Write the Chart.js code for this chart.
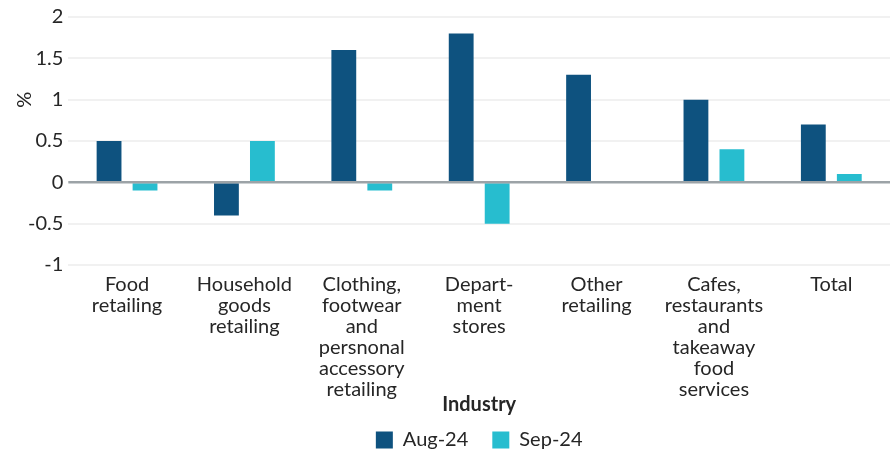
<!DOCTYPE html>
<html>
<head>
<meta charset="utf-8">
<script src="https://cdn.jsdelivr.net/npm/chart.js@4"></script>
<style>
  html, body { margin: 0; padding: 0; background: #fff; }
  #wrap { width: 890px; height: 450px; }
</style>
</head>
<body>
<div id="wrap"><canvas id="myChart"></canvas></div>
<script>
// Industry categories (multi-line labels)
const industries = [
  ["Food", "retailing"],
  ["Household", "goods", "retailing"],
  ["Clothing,", "footwear", "and", "persnonal", "accessory", "retailing"],
  ["Depart-", "ment", "stores"],
  ["Other", "retailing"],
  ["Cafes,", "restaurants", "and", "takeaway", "food", "services"],
  ["Total"]
];

// Monthly change, %
const aug24 = [0.5, -0.4, 1.6, 1.8, 1.3, 1.0, 0.7];
const sep24 = [-0.1, 0.5, -0.1, -0.5, 0, 0.4, 0.1];

const FONT = "Lato, 'DejaVu Sans', sans-serif";
const TEXT = "#262626";

// Zero line drawn over the bars, plus the "%" unit label beside the y axis
const extras = {
  id: "extras",
  afterDatasetsDraw(chart) {
    const ys = chart.scales.y;
    const y = ys.getPixelForValue(0);
    const area = chart.chartArea;
    const c = chart.ctx;
    c.save();
    c.strokeStyle = "#9ca3a7";
    c.lineWidth = 2.5;
    c.beginPath();
    c.moveTo(area.left, y);
    c.lineTo(area.right, y);
    c.stroke();

    c.translate(25, ys.getPixelForValue(1));
    c.rotate(-Math.PI / 2);
    c.fillStyle = TEXT;
    c.font = "20px " + FONT;
    c.textAlign = "center";
    c.textBaseline = "middle";
    c.fillText("%", 0, 0);
    c.restore();
  }
};

const ctx = document.getElementById("myChart").getContext("2d");

const chart = new Chart(ctx, {
  type: "bar",
  data: {
    labels: industries,
    datasets: [
      {
        label: "Aug-24",
        data: aug24,
        backgroundColor: "#0e527f",
        categoryPercentage: 0.613,
        barPercentage: 0.69,
      },
      {
        label: "Sep-24",
        data: sep24,
        backgroundColor: "#27bdcf",
        categoryPercentage: 0.613,
        barPercentage: 0.69,
      },
    ],
  },
  plugins: [extras],
  options: {
    responsive: true,
    maintainAspectRatio: false,
    animation: false,
    layout: { padding: { top: 8, right: 0, left: 23, bottom: -10 } },
    plugins: {
      legend: {
        position: "bottom",
        fullSize: false,
        labels: {
          boxWidth: 17,
          boxHeight: 17,
          padding: 24,
          color: TEXT,
          font: { family: FONT, size: 20 },
        },
      },
      tooltip: { enabled: false },
    },
    scales: {
      x: {
        grid: { display: false, drawTicks: false },
        border: { display: false },
        ticks: {
          autoSkip: false,
          maxRotation: 0,
          padding: 9,
          color: TEXT,
          font: { family: FONT, size: 20, lineHeight: 1.05 },
        },
        title: {
          display: true,
          text: "Industry",
          color: TEXT,
          padding: { top: -16, bottom: -11 },
          font: { family: FONT, size: 20, weight: "bold" },
        },
      },
      y: {
        min: -1,
        max: 2,
        grid: {
          color: "#f1f1f1",
          lineWidth: 2,
          drawTicks: false,
        },
        border: { display: false },
        ticks: {
          stepSize: 0.5,
          padding: 5,
          color: TEXT,
          font: { family: FONT, size: 20 },
          callback: (v) => String(v),
        },
      },
    },
  },
});
</script>
</body>
</html>
